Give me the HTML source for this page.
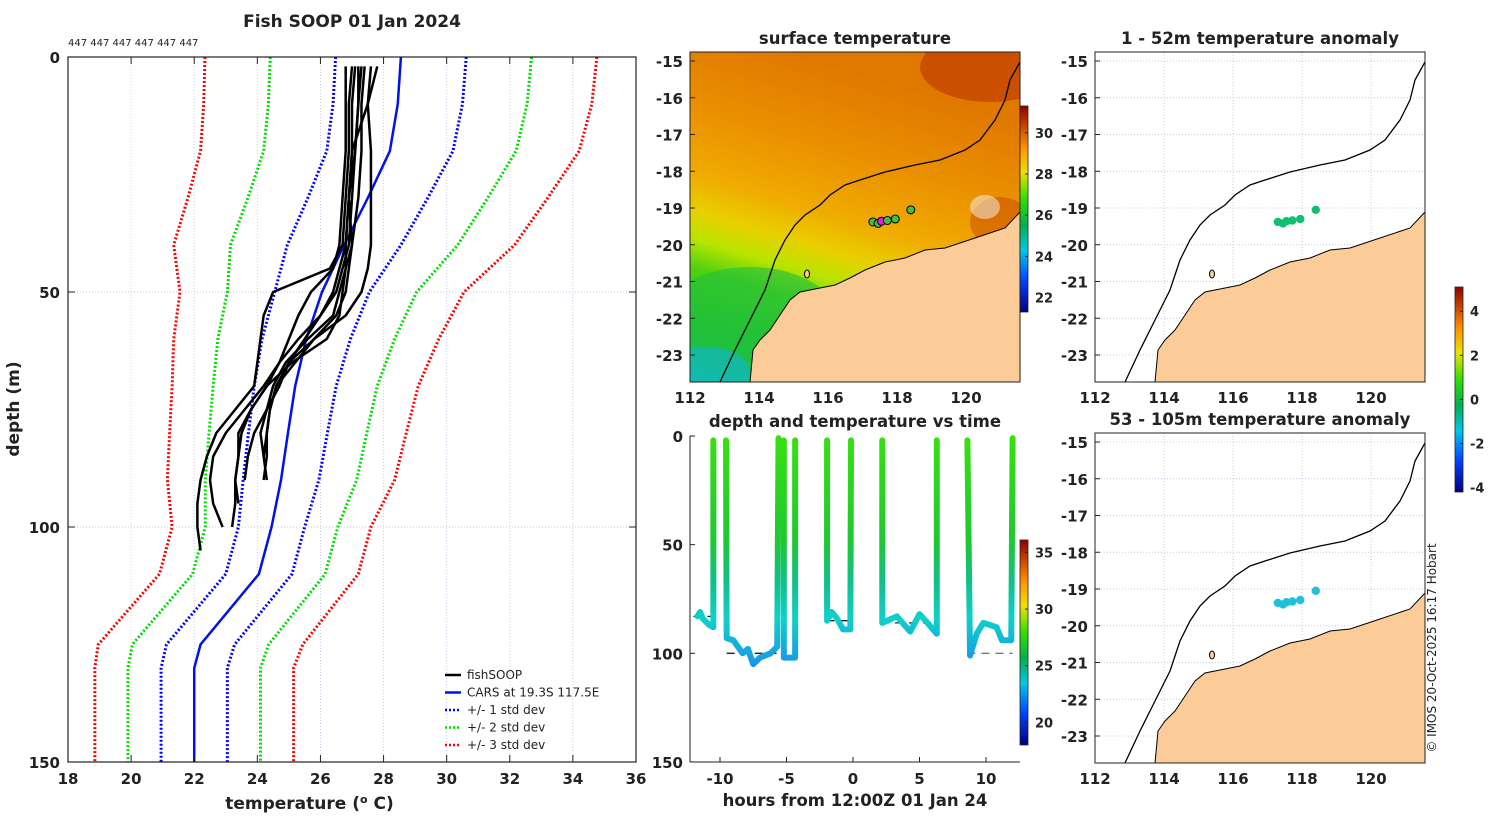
<!DOCTYPE html>
<html><head><meta charset="utf-8">
<style>
html,body{margin:0;padding:0;background:#fff;}
svg text{font-family:"DejaVu Sans","Liberation Sans",sans-serif;}
</style></head>
<body>
<svg id="fig" width="1500" height="820" viewBox="0 0 1500 820" xmlns="http://www.w3.org/2000/svg">
<defs>
<linearGradient id="sstcmap" x1="0" y1="1" x2="0" y2="0">
<stop offset="0" stop-color="#00007f"/><stop offset="0.15" stop-color="#0040ff"/><stop offset="0.3" stop-color="#00c8e8"/><stop offset="0.42" stop-color="#00b050"/><stop offset="0.55" stop-color="#30e000"/><stop offset="0.68" stop-color="#f0e000"/><stop offset="0.8" stop-color="#ff9000"/><stop offset="1" stop-color="#900000"/>
</linearGradient>
<linearGradient id="sstfield" x1="0.3" y1="0" x2="0" y2="1">
<stop offset="0" stop-color="#e07800"/><stop offset="0.25" stop-color="#eb9200"/><stop offset="0.42" stop-color="#f0ac00"/><stop offset="0.52" stop-color="#e8d000"/><stop offset="0.6" stop-color="#b8e400"/><stop offset="0.68" stop-color="#50d010"/><stop offset="0.85" stop-color="#20c030"/><stop offset="1" stop-color="#18c090"/>
</linearGradient>
<linearGradient id="towgrad" gradientUnits="userSpaceOnUse" x1="0" y1="436" x2="0" y2="670">
<stop offset="0" stop-color="#38e010"/><stop offset="0.45" stop-color="#1ec832"/><stop offset="0.62" stop-color="#10c088"/><stop offset="0.78" stop-color="#10d0c8"/><stop offset="1" stop-color="#1890f0"/>
</linearGradient>
</defs>
</svg>
<script>
// ---------- data ----------
const carsDepth=[0,10,20,30,40,50,60,70,80,90,100,110,125,130,150];
const carsMean=[28.55,28.45,28.2,27.5,26.75,26.05,25.55,25.2,24.97,24.75,24.45,24.05,22.2,22.0,22.0];
const carsStd=[2.07,2.05,2.0,1.9,1.8,1.5,1.4,1.3,1.25,1.2,1.05,1.05,1.08,1.05,1.05];
const fishDepth=[2,10,20,30,40,45,50,55,60,65,70,75,80,85,90,95,100,105];
const fish1=[27.0,26.9,26.9,26.8,26.7,26.3,24.5,24.2,24.1,24.0,23.9,23.3,22.7,22.4,22.2,22.1,22.1,22.2];
const fish2=[27.2,27.2,27.1,27.0,26.9,26.7,26.5,26.0,25.3,24.7,24.2,23.6,23.0,22.6,22.5,22.6,22.9,null];
const fish3=[27.4,27.3,27.3,27.2,27.0,26.8,26.6,26.4,25.6,24.9,24.5,24.3,24.1,24.2,24.3,null,null,null];
const fish4=[27.6,27.5,27.6,27.6,27.6,27.5,27.3,26.8,25.8,25.2,24.6,24.4,24.3,24.2,null,null,null,null];
const fish5=[26.8,26.8,26.8,26.7,26.6,26.4,25.7,25.3,25.0,24.7,24.3,23.8,23.4,23.4,23.3,23.4,null,null];
const fish6=[27.3,27.2,27.1,26.9,26.8,26.6,26.4,26.0,25.5,25.0,24.7,24.3,23.9,23.7,23.6,null,null,null];
const fish7=[27.1,27.0,27.0,26.9,26.8,26.8,26.7,26.6,26.2,25.1,24.3,23.8,23.5,23.4,23.3,23.3,23.2,null];
const fish8=[27.8,27.5,27.0,26.9,27.0,26.9,26.8,26.5,25.8,25.0,24.6,24.4,24.3,24.3,24.2,null,null,null];
const fishProfiles=[fish1,fish2,fish3,fish4,fish5,fish6,fish7,fish8];
const tempTicks=[18,20,22,24,26,28,30,32,34,36];
const depthTicks=[0,50,100,150];
// time panel
const towA_t=[-11.7,-11.5,-11.3,-10.8,-10.5,-10.5], towA_d=[83,81,84,87,88,2];
const towB_t=[-9.55,-9.5,-9.0,-8.3,-7.9,-7.5,-7.0,-6.2,-5.7,-5.6], towB_d=[2,93,94,100,98,105,102,100,97,1];
const towC_t=[-5.2,-5.2,-4.35,-4.35], towC_d=[2,102,102,2];
const towD_t=[-1.95,-1.95,-1.6,-1.2,-0.75,-0.2,-0.15], towD_d=[2,85,81,84,89,89,2];
const towE_t=[2.2,2.2,3.3,4.3,5.0,5.6,6.3,6.3], towE_d=[2,86,83,90,82,86,91,2];
const towF_t=[8.6,8.8,9.3,9.8,10.3,10.8,11.2,11.9,12.0], towF_d=[2,101,91,86,87,88,94,94,1];
const tows=[[towA_t,towA_d],[towB_t,towB_d],[towC_t,towC_d],[towD_t,towD_d],[towE_t,towE_d],[towF_t,towF_d]];
const refStart=[-12,-9.5,-5.2,-2,2.1,8.6], refEnd=[-10.5,-5.6,-4.4,-0.2,6.4,12], refDepth=[83,100,102,85,86,100];
const hourTicks=[-10,-5,0,5,10];
const sstTicks=[22,24,26,28,30];
const towTempTicks=[20,25,30,35];
const anomTicks=[-4,-2,0,2,4];
// stations
const stLon=[117.3,117.45,117.55,117.72,117.95,118.4];
const stLat=[-19.38,-19.42,-19.36,-19.34,-19.3,-19.05];
const lonTicks=[112,114,116,118,120];
const latTicks=[-15,-16,-17,-18,-19,-20,-21,-22,-23];

// ---------- helpers ----------
const NS="http://www.w3.org/2000/svg";
const svg=document.getElementById('fig');
function mk(tag,attrs,parent){const e=document.createElementNS(NS,tag);for(const k in attrs)e.setAttribute(k,attrs[k]);(parent||svg).appendChild(e);return e;}
function txt(x,y,s,size,anchor,weight,parent){const t=mk('text',{x:x,y:y,'font-size':size,'text-anchor':anchor||'middle','font-weight':weight||'bold',fill:'#222'},parent);t.textContent=s;return t;}

// ---------- panel 1: profiles ----------
const px=t=>68+(t-18)*31.556, py=d=>57+d*4.7;
const g1=mk('g',{});


tempTicks.forEach(t=>{if(t>18&&t<36){const l=mk('line',{x1:px(t),y1:57,x2:px(t),y2:762,stroke:(t%4==0?'#e8c8b8':'#c0c8e8'),'stroke-width':1,'stroke-dasharray':'1 2'},g1);

}});
[50,100].forEach(d=>{const l=mk('line',{x1:68,y1:py(d),x2:636,y2:py(d),stroke:'#c0c8e8','stroke-width':1,'stroke-dasharray':'1 2'},g1);

});
const stdCols={1:'#0000ff',2:'#00dd00',3:'#ff0000'};
[-3,-2,-1,1,2,3].forEach(k=>{const pts=carsDepth.map((d,i)=>px(carsMean[i]+k*carsStd[i])+','+py(d)).join(' ');
const l=mk('polyline',{points:pts,fill:'none',stroke:stdCols[Math.abs(k)],'stroke-width':3,'stroke-dasharray':'2 2'},g1);

});
const cl=mk('polyline',{points:carsDepth.map((d,i)=>px(carsMean[i])+','+py(d)).join(' '),fill:'none',stroke:'#0010ee','stroke-width':2.5},g1);


fishProfiles.forEach((p,j)=>{const pts=[];p.forEach((t,i)=>{if(t!=null)pts.push(px(t)+','+py(fishDepth[i]));});
const l=mk('polyline',{points:pts.join(' '),fill:'none',stroke:'#000','stroke-width':2.5,'stroke-linejoin':'round'},g1);

});
const b1=mk('rect',{x:68,y:57,width:568,height:705,fill:'none',stroke:'#222','stroke-width':1.2},g1);


tempTicks.forEach(t=>{mk('line',{x1:px(t),y1:762,x2:px(t),y2:755,stroke:'#222'},g1);mk('line',{x1:px(t),y1:57,x2:px(t),y2:64,stroke:'#222'},g1);
const tl=txt(px(t),784,String(t),15,'middle','bold',g1);

});
depthTicks.forEach(d=>{mk('line',{x1:68,y1:py(d),x2:75,y2:py(d),stroke:'#222'},g1);mk('line',{x1:636,y1:py(d),x2:629,y2:py(d),stroke:'#222'},g1);
const tl=txt(60,py(d)+6,String(d),15,'end','bold',g1);

});
let t1=txt(352,27,'Fish SOOP 01 Jan 2024',17,'middle','bold',g1);


t1=txt(68,46,'447 447 447 447 447 447',10,'start','normal',g1);


t1=txt(360,809,'temperature (',17,'end','bold',g1);


t1=mk('text',{x:360,y:809,'font-size':17,'font-weight':'bold',fill:'#222'},g1);t1.innerHTML='<tspan dy="-6" font-size="11">o</tspan><tspan dy="6"> C)</tspan>';


t1=txt(0,0,'depth (m)',17,'middle','bold',g1);t1.setAttribute('transform','translate(19,409) rotate(-90)');


// legend
const legItems=[['fishSOOP','#000',''],['CARS at 19.3S 117.5E','#0010ee',''],['+/- 1 std dev','#0000ff','2 2'],['+/- 2 std dev','#00dd00','2 2'],['+/- 3 std dev','#ff0000','2 2']];
legItems.forEach((it,i)=>{const y=675+i*17.5;const ln=mk('line',{x1:445,y1:y,x2:461,y2:y,stroke:it[1],'stroke-width':2.5,'stroke-dasharray':it[2]||'none'},g1);


const lt=txt(467,y+4,it[0],12,'start','normal',g1);

});

// ---------- maps ----------
const landRel=[[330,160],[315,176],[285,186],[255,196],[235,198],[215,206],[195,210],[175,218],[160,226],[145,233],[130,236],[110,240],[100,248],[90,263],[80,278],[70,288],[63,298],[60,330],[330,330]];
const isoRel=[[330,10],[320,28],[315,48],[305,68],[290,88],[275,98],[250,108],[225,113],[195,120],[170,128],[155,133],[140,143],[130,153],[115,163],[105,173],[95,188],[85,208],[75,238],[65,258],[55,278],[45,298],[30,330]];
function drawMap(x0,y0,name,title,sst,dotColor){
 const lonX=l=>x0+(l-112)*34.5, latY=a=>y0+9+(-15-a)*36.75;
 const g=mk('g',{});
 
 
 const clipId='clip'+name;const cp=mk('clipPath',{id:clipId},g);mk('rect',{x:x0,y:y0,width:330,height:330},cp);
 const inner=mk('g',{'clip-path':'url(#'+clipId+')'},g);
 if(sst){const f=mk('rect',{x:x0,y:y0,width:330,height:330,fill:'url(#sstfield)'},inner);
  
  
  mk('ellipse',{cx:x0+60,cy:y0+270,rx:90,ry:55,fill:'#20c040',opacity:0.6},inner);
  mk('ellipse',{cx:x0+15,cy:y0+320,rx:45,ry:25,fill:'#10b8c0',opacity:0.7},inner);
  mk('ellipse',{cx:x0+300,cy:y0+15,rx:70,ry:35,fill:'#b83000',opacity:0.55},inner);
  mk('ellipse',{cx:x0+310,cy:y0+170,rx:30,ry:25,fill:'#c84800',opacity:0.5},inner);
  mk('ellipse',{cx:x0+295,cy:y0+155,rx:15,ry:12,fill:'#f4f4f4',opacity:0.5},inner);
 } else {
  lonTicks.forEach(l=>mk('line',{x1:lonX(l),y1:y0,x2:lonX(l),y2:y0+330,stroke:'#d8c8b8','stroke-dasharray':'1 2'},inner));
  latTicks.forEach(a=>mk('line',{x1:x0,y1:latY(a),x2:x0+330,y2:latY(a),stroke:'#c0c8e8','stroke-dasharray':'1 2'},inner));
 }
 const land=mk('polygon',{points:landRel.map(p=>(x0+p[0])+','+(y0+p[1])).join(' '),fill:'#fbcb98',stroke:'#000','stroke-width':1},inner);
 
 
 mk('ellipse',{cx:x0+117,cy:y0+222,rx:2.5,ry:4,fill:'#fbcb98',stroke:'#000'},inner);
 const iso=mk('polyline',{points:isoRel.map(p=>(x0+p[0])+','+(y0+p[1])).join(' '),fill:'none',stroke:'#000','stroke-width':1.3},inner);
 
 
 stLon.forEach((l,i)=>{const c=mk('circle',{cx:lonX(l),cy:latY(stLat[i]),r:sst?4:4.2,fill:sst?(i==2?'#e020e0':'#40c040'):dotColor,stroke:sst?'#000':'none','stroke-width':1},inner);
  
  });
 const bx=mk('rect',{x:x0,y:y0,width:330,height:330,fill:'none',stroke:'#222'},g);
 
 
 lonTicks.forEach(l=>{const t=txt(lonX(l),y0+351,String(l),15,'middle','bold',g);
  
  });
 latTicks.forEach(a=>{mk('line',{x1:x0,y1:latY(a),x2:x0+5,y2:latY(a),stroke:'#222'},g);
  const t=txt(x0-7,latY(a)+6,String(a),15,'end','bold',g);
  
  });
 const tt=txt(x0+165,y0-8,title,16.5,'middle','bold',g);
 
 
}
drawMap(690,52,'sst-map','surface temperature',true,null);
drawMap(1095,52,'anomaly-map-shallow','1 - 52m temperature anomaly',false,'#10c070');
drawMap(1095,433,'anomaly-map-deep','53 - 105m temperature anomaly',false,'#20c0d8');

function colorbar(x,y,h,lo,hi,ticks,name){
 const g=mk('g',{});
 
 
 mk('rect',{x:x,y:y,width:8,height:h,fill:'url(#sstcmap)',stroke:'#222','stroke-width':0.8},g);
 ticks.forEach(v=>{const yy=y+h-(v-lo)/(hi-lo)*h;mk('line',{x1:x+8,y1:yy,x2:x+5,y2:yy,stroke:'#222'},g);
  const t=txt(x+15,yy+5,String(v),13,'start','bold',g);
  
  });
}
colorbar(1020,106,206,21.3,31.3,sstTicks,'sst-colorbar');
colorbar(1455,287,205,-4.2,5.1,anomTicks,'anomaly-colorbar');
colorbar(1020,540,205,18.0,36.1,towTempTicks,'tow-colorbar');

// ---------- panel 5: depth vs time ----------
const tx=h=>853+h*13.3, ty=d=>436+d*2.173;
const g5=mk('g',{});


refStart.forEach((s,i)=>{const l=mk('line',{x1:tx(s),y1:ty(refDepth[i]),x2:tx(refEnd[i]),y2:ty(refDepth[i]),stroke:i==5?'#777':'#222','stroke-width':1.3,'stroke-dasharray':'8 6'},g5);
 
 });
tows.forEach((tw,j)=>{const pts=tw[0].map((h,i)=>tx(h)+','+ty(tw[1][i])).join(' ');
 const l=mk('polyline',{points:pts,fill:'none',stroke:'url(#towgrad)','stroke-width':6,'stroke-linejoin':'round','stroke-linecap':'round'},g5);
 
 });
mk('line',{x1:690,y1:436,x2:690,y2:762,stroke:'#222'},g5);
mk('line',{x1:690,y1:762,x2:1020,y2:762,stroke:'#222'},g5);
hourTicks.forEach(h=>{mk('line',{x1:tx(h),y1:762,x2:tx(h),y2:757,stroke:'#222'},g5);
 const t=txt(tx(h),784,String(h),15,'middle','bold',g5);
 
 });
depthTicks.forEach(d=>{mk('line',{x1:690,y1:ty(d),x2:695,y2:ty(d),stroke:'#222'},g5);
 const t=txt(683,ty(d)+6,String(d),15,'end','bold',g5);
 
 });
let t5=txt(855,427,'depth and temperature vs time',16.5,'middle','bold',g5);


t5=txt(855,806,'hours from 12:00Z 01 Jan 24',16.5,'middle','bold',g5);


const cr=txt(0,0,'© IMOS 20-Oct-2025 16:17 Hobart',12,'middle','normal');
cr.setAttribute('transform','translate(1436,648) rotate(-90)');


</script>
</body></html>
